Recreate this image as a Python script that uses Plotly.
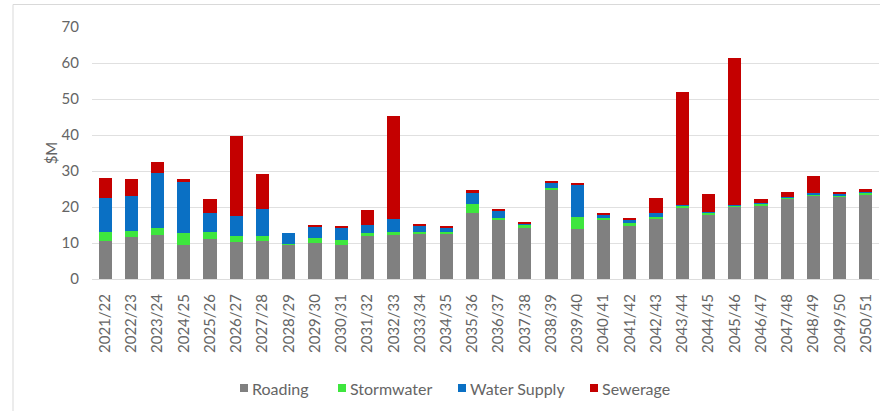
import plotly.graph_objects as go

years = [
    "2021/22", "2022/23", "2023/24", "2024/25", "2025/26", "2026/27", "2027/28",
    "2028/29", "2029/30", "2030/31", "2031/32", "2032/33", "2033/34", "2034/35",
    "2035/36", "2036/37", "2037/38", "2038/39", "2039/40", "2040/41", "2041/42",
    "2042/43", "2043/44", "2044/45", "2045/46", "2046/47", "2047/48", "2048/49",
    "2049/50", "2050/51",
]

roading = [10.6, 11.8, 12.2, 9.4, 11.0, 10.4, 10.6, 9.5, 9.9, 9.4, 11.9, 12.2, 12.7, 12.5,
           18.4, 16.6, 14.1, 24.9, 13.8, 16.6, 14.7, 16.7, 19.9, 17.8, 20.0, 20.5, 22.4,
           23.1, 22.7, 23.6]
stormwater = [2.5, 1.5, 2.1, 3.3, 2.1, 1.5, 1.4, 0.3, 1.4, 1.4, 1.0, 0.9, 0.4, 0.5,
              2.4, 0.4, 0.9, 0.5, 3.5, 0.4, 0.9, 0.6, 0.5, 0.6, 0.4, 0.4, 0.3,
              0.4, 0.6, 0.4]
water_supply = [9.5, 9.7, 15.1, 14.2, 5.1, 5.6, 7.4, 3.1, 3.1, 3.3, 2.1, 3.5, 1.8, 1.4,
                3.2, 2.0, 0.5, 1.5, 8.9, 1.0, 0.8, 1.1, 0.2, 0.3, 0.1, 0.3, 0.2,
                0.3, 0.2, 0.2]
sewerage = [5.4, 4.7, 3.0, 0.8, 3.9, 22.3, 9.7, 0.0, 0.6, 0.6, 4.2, 28.8, 0.4, 0.4,
            0.7, 0.4, 0.4, 0.4, 0.6, 0.4, 0.4, 4.2, 31.3, 4.9, 40.8, 0.9, 1.4,
            4.9, 0.6, 0.8]

y_ticks = [0, 10, 20, 30, 40, 50, 60, 70]

series = [
    ("Roading", roading, "#808080"),
    ("Stormwater", stormwater, "#3ee63e"),
    ("Water Supply", water_supply, "#0a70c4"),
    ("Sewerage", sewerage, "#c40000"),
]

W, H = 880, 411
ML, MR, MT, MB = 92, 1, 27, 132
PW, PH = W - ML - MR, H - MT - MB


def px_x(px):
    return (px - ML) / PW


def px_y(py):
    return (H - MB - py) / PH


fig = go.Figure()
for name, vals, color in series:
    fig.add_trace(go.Bar(x=years, y=vals, name=name, marker_color=color,
                         marker_line_width=0, showlegend=False))

# Legend row under the axis: square swatch followed by the series name
legend_left = [240, 338, 458, 590]
legend_y = 388
shapes = [dict(type="rect", xref="paper", yref="paper",
               x0=px_x(13), x1=1.05, y0=-0.8, y1=px_y(4.5),
               line=dict(color="#d9d9d9", width=1), layer="below")]
annotations = []
for (name, _, color), left in zip(series, legend_left):
    shapes.append(dict(type="rect", xref="paper", yref="paper",
                       x0=px_x(left), x1=px_x(left + 8),
                       y0=px_y(legend_y + 4), y1=px_y(legend_y - 4),
                       fillcolor=color, line=dict(width=0)))
    annotations.append(dict(text=name, xref="paper", yref="paper",
                            x=px_x(left + 10), y=px_y(legend_y),
                            xanchor="left", yanchor="middle", showarrow=False,
                            font=dict(size=16, color="#656565")))

fig.update_layout(
    width=W, height=H,
    barmode="stack", bargap=0.5,
    margin=dict(l=ML, r=MR, t=MT, b=MB),
    paper_bgcolor="white", plot_bgcolor="white",
    font=dict(family="Lato, Open Sans, sans-serif", color="#656565", size=15),
    showlegend=False,
    xaxis=dict(tickangle=-90, tickfont=dict(size=15), showgrid=False,
               showline=True, linecolor="#dddddd", ticks="",
               ticklabelstandoff=8, automargin=False),
    yaxis=dict(range=[0, 70], tickvals=y_ticks, showgrid=True, gridcolor="#e0e0e0",
               zeroline=False, ticks="", ticklabelstandoff=12, automargin=False,
               tickfont=dict(size=15),
               title=dict(text="$M", font=dict(size=15), standoff=0)),
    shapes=shapes,
    annotations=annotations,
)

fig.write_html("out.html")
